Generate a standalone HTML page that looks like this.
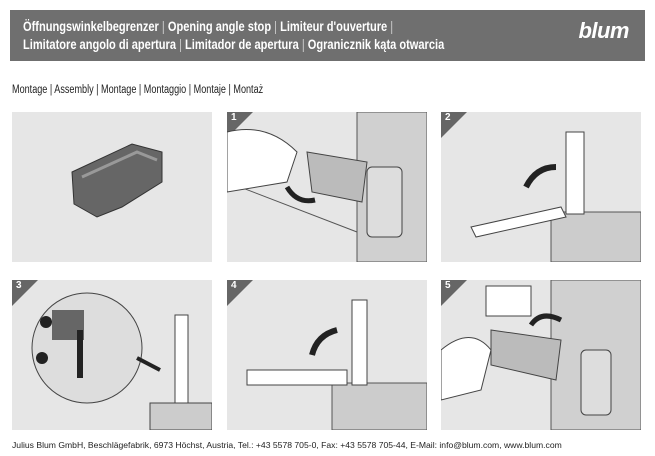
<!DOCTYPE html>
<html><head><meta charset="utf-8"><style>
body{margin:0;width:655px;height:456px;background:#fff;font-family:"Liberation Sans",sans-serif;position:relative;overflow:hidden}
.hdr{position:absolute;left:10px;top:10px;width:635px;height:51px;background:#6f6f6f;color:#fff;font-weight:bold;font-size:14px;line-height:18px}
.hdr .t{position:absolute;left:13px;top:7px;white-space:nowrap;transform:scaleX(0.79);transform-origin:0 0}
.hdr .b{color:#ccc;font-weight:normal}
.logo{position:absolute;right:16px;top:12px;font-size:22px;font-style:italic;font-weight:bold;color:#fff;letter-spacing:-0.5px}
.sub{position:absolute;left:12px;top:84px;font-size:11.5px;color:#222;white-space:nowrap;transform:scaleX(0.79);transform-origin:0 0}
.p{position:absolute;width:200px;height:150px;background:#e6e6e6;overflow:hidden}
.n{position:absolute;left:0;top:0;width:0;height:0;border-top:26px solid #666;border-right:26px solid transparent}
.n span{position:absolute;left:4px;top:-26px;color:#fff;font-size:10px;font-weight:bold}
.foot{position:absolute;left:12px;top:440px;font-size:8.6px;color:#222;white-space:nowrap}
svg{position:absolute;left:0;top:0}
</style></head><body>
<div class="hdr"><div class="t">Öffnungswinkelbegrenzer <span class="b">|</span> Opening angle stop <span class="b">|</span> Limiteur d'ouverture <span class="b">|</span><br>Limitatore angolo di apertura <span class="b">|</span> Limitador de apertura <span class="b">|</span> Ogranicznik kąta otwarcia</div><div class="logo">blum</div></div>
<div class="sub">Montage | Assembly | Montage | Montaggio | Montaje | Montaż</div>

<div class="p" style="left:12px;top:112px"><svg width="200" height="150"><path d="M60 60 L120 32 L150 40 L150 70 L110 95 L85 105 L62 92 Z" fill="#666" stroke="#333"/><path d="M70 65 L125 40 L145 48" fill="none" stroke="#999" stroke-width="3"/></svg></div>
<div class="p" style="left:227px;top:112px"><div class="n"><span>1</span></div><svg width="200" height="150"><rect x="130" y="0" width="70" height="150" fill="#d0d0d0" stroke="#555"/><path d="M0 70 L130 120" stroke="#555" fill="none"/><path d="M80 40 L140 50 L135 90 L85 80 Z" fill="#bbb" stroke="#444"/><rect x="140" y="55" width="35" height="70" rx="5" fill="#ddd" stroke="#444"/><path d="M0 20 Q40 10 70 40 L60 70 L0 80 Z" fill="#fff" stroke="#444"/><path d="M60 75 Q70 92 88 88" fill="none" stroke="#222" stroke-width="5"/></svg></div>
<div class="p" style="left:441px;top:112px"><div class="n"><span>2</span></div><svg width="200" height="150"><rect x="110" y="100" width="90" height="50" fill="#ccc" stroke="#555"/><rect x="125" y="20" width="18" height="82" fill="#fff" stroke="#444"/><path d="M30 115 L120 95 L125 105 L35 125 Z" fill="#fff" stroke="#444"/><path d="M85 75 Q95 55 115 55" fill="none" stroke="#222" stroke-width="6"/></svg></div>
<div class="p" style="left:12px;top:280px"><div class="n"><span>3</span></div><svg width="200" height="150"><circle cx="75" cy="68" r="55" fill="#ddd" stroke="#444"/><rect x="40" y="30" width="32" height="30" fill="#666"/><rect x="65" y="50" width="6" height="48" fill="#222"/><circle cx="34" cy="42" r="6" fill="#222"/><circle cx="30" cy="78" r="6" fill="#222"/><rect x="138" y="123" width="62" height="27" fill="#ccc" stroke="#444"/><rect x="163" y="35" width="13" height="88" fill="#fff" stroke="#444"/><path d="M125 78 L148 90" stroke="#222" stroke-width="4"/></svg></div>
<div class="p" style="left:227px;top:280px"><div class="n"><span>4</span></div><svg width="200" height="150"><rect x="105" y="103" width="95" height="47" fill="#ccc" stroke="#555"/><rect x="125" y="20" width="15" height="85" fill="#fff" stroke="#444"/><path d="M20 90 L120 90 L120 105 L20 105 Z" fill="#fff" stroke="#444"/><path d="M110 50 Q90 55 85 75" fill="none" stroke="#222" stroke-width="6"/></svg></div>
<div class="p" style="left:441px;top:280px"><div class="n"><span>5</span></div><svg width="200" height="150"><rect x="110" y="0" width="90" height="150" fill="#d0d0d0" stroke="#555"/><rect x="45" y="6" width="45" height="30" fill="#fff" stroke="#444"/><path d="M50 50 L120 60 L115 100 L50 85 Z" fill="#bbb" stroke="#444"/><rect x="140" y="70" width="30" height="65" rx="5" fill="#ddd" stroke="#444"/><path d="M0 70 Q30 45 50 70 L40 110 L0 120 Z" fill="#fff" stroke="#444"/><path d="M90 45 Q100 30 120 40" fill="none" stroke="#222" stroke-width="5"/></svg></div>

<div class="foot">Julius Blum GmbH, Beschlägefabrik, 6973 Höchst, Austria, Tel.: +43 5578 705-0, Fax: +43 5578 705-44, E-Mail: info@blum.com, www.blum.com</div>
</body></html>
